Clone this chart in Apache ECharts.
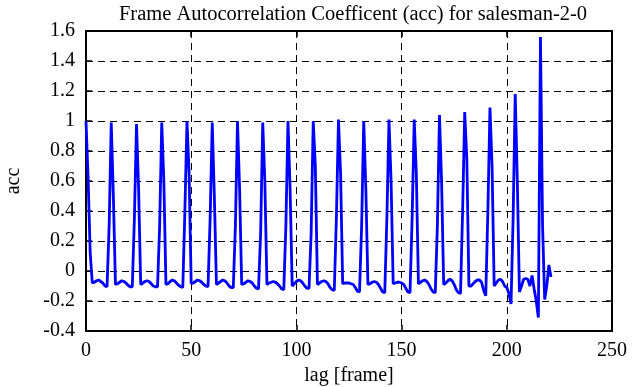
<!DOCTYPE html>
<html>
<head>
<meta charset="utf-8">
<script src="https://cdn.jsdelivr.net/npm/echarts@6/dist/echarts.min.js"></script>
<style>
html,body{margin:0;padding:0;background:#fff;}
#chart{width:635px;height:387px;}
</style>
</head>
<body>
<div id="chart"></div>
<script>
// Chart data
var titleText = "Frame Autocorrelation Coefficent (acc) for salesman-2-0";
var xLabel = "lag [frame]";
var yLabel = "acc";
var xTicks = [0, 50, 100, 150, 200, 250];
var yTicks = [-0.4, -0.2, 0, 0.2, 0.4, 0.6, 0.8, 1, 1.2, 1.4, 1.6];

// lag values 0..221
var lags = [
  0,1,2,3,4,5,6,7,8,9,10,11,12,13,14,15,16,17,18,19,
  20,21,22,23,24,25,26,27,28,29,30,31,32,33,34,35,36,37,38,39,
  40,41,42,43,44,45,46,47,48,49,50,51,52,53,54,55,56,57,58,59,
  60,61,62,63,64,65,66,67,68,69,70,71,72,73,74,75,76,77,78,79,
  80,81,82,83,84,85,86,87,88,89,90,91,92,93,94,95,96,97,98,99,
  100,101,102,103,104,105,106,107,108,109,110,111,112,113,114,115,116,117,118,119,
  120,121,122,123,124,125,126,127,128,129,130,131,132,133,134,135,136,137,138,139,
  140,141,142,143,144,145,146,147,148,149,150,151,152,153,154,155,156,157,158,159,
  160,161,162,163,164,165,166,167,168,169,170,171,172,173,174,175,176,177,178,179,
  180,181,182,183,184,185,186,187,188,189,190,191,192,193,194,195,196,197,198,199,
  200,201,202,203,204,205,206,207,208,209,210,211,212,213,214,215,216,217,218,219,
  220,221
];
var acc = [
  1.0, 0.62, 0.12, -0.08, -0.075, -0.065, -0.06, -0.07, -0.08, -0.1,
  -0.105, 0.3, 0.99, 0.5, -0.09, -0.085, -0.075, -0.065, -0.07, -0.08,
  -0.095, -0.105, -0.105, 0.35, 0.98, 0.55, -0.09, -0.08, -0.07, -0.065,
  -0.07, -0.085, -0.1, -0.105, -0.105, 0.3, 0.99, 0.6, -0.09, -0.085,
  -0.07, -0.06, -0.065, -0.08, -0.095, -0.105, -0.11, 0.4, 1.0, 0.65,
  -0.085, -0.08, -0.07, -0.06, -0.065, -0.075, -0.09, -0.1, -0.105, 0.35,
  0.99, 0.5, -0.09, -0.08, -0.07, -0.06, -0.065, -0.08, -0.1, -0.11,
  -0.11, 0.3, 1.0, 0.55, -0.09, -0.085, -0.075, -0.065, -0.07, -0.08,
  -0.1, -0.115, -0.12, 0.25, 0.99, 0.6, -0.09, -0.08, -0.075, -0.07,
  -0.075, -0.085, -0.1, -0.12, -0.125, 0.3, 1.0, 0.55, -0.1, -0.085,
  -0.07, -0.06, -0.065, -0.08, -0.1, -0.115, -0.115, 0.25, 1.0, 0.7,
  -0.09, -0.08, -0.07, -0.065, -0.07, -0.085, -0.11, -0.125, -0.13, 0.35,
  1.01, 0.65, -0.085, -0.08, -0.08, -0.08, -0.085, -0.09, -0.11, -0.135,
  -0.14, 0.3, 1.0, 0.55, -0.09, -0.085, -0.075, -0.07, -0.075, -0.09,
  -0.115, -0.14, -0.145, 0.35, 1.01, 0.6, -0.085, -0.08, -0.075, -0.075,
  -0.08, -0.09, -0.115, -0.14, -0.145, 0.35, 1.01, 0.65, -0.085, -0.075,
  -0.065, -0.06, -0.07, -0.09, -0.12, -0.14, -0.145, 0.3, 1.04, 0.6,
  -0.09, -0.08, -0.065, -0.055, -0.065, -0.09, -0.125, -0.145, -0.15, 0.4,
  1.06, 0.75, -0.1, -0.1, -0.085, -0.07, -0.06, -0.06, -0.075, -0.13,
  -0.165, 0.4, 1.09, 0.7, -0.1, -0.08, -0.06, -0.055, -0.07, -0.1,
  -0.11, -0.15, -0.22, 0.35, 1.18, 0.6, -0.14, -0.1, -0.055, -0.05,
  -0.055, -0.1, -0.03, -0.12, -0.2, -0.31, 1.56, 0.3, -0.19, -0.1,
  0.04, -0.04
];

var seriesData = lags.map(function (l, i) { return [l, acc[i]]; });

var font = "'Liberation Serif', 'DejaVu Serif', serif";
var chart = echarts.init(document.getElementById('chart'), null, {renderer: 'canvas'});

var frameLine = {show: true, onZero: false, lineStyle: {color: '#000', width: 2}};
var dashed = {show: true, lineStyle: {color: '#000', type: [7, 5], width: 1}};
var tick = {show: true, inside: true, length: 6, lineStyle: {color: '#000', width: 1.5}};

chart.setOption({
  animation: false,
  backgroundColor: '#fff',
  title: {
    text: titleText,
    left: 348, textAlign: 'center', top: -1,
    textStyle: {fontFamily: font, fontSize: 20.5, fontWeight: 'normal', color: '#000'}
  },
  grid: {left: 86, right: 23, top: 31, bottom: 56, containLabel: false, outerBoundsMode: 'none'},
  xAxis: [{
    type: 'value', min: xTicks[0], max: xTicks[xTicks.length - 1], interval: 50,
    position: 'bottom',
    name: xLabel, nameLocation: 'middle', nameGap: 34,
    nameTextStyle: {fontFamily: font, fontSize: 20, color: '#000'},
    axisLine: frameLine,
    axisTick: tick,
    axisLabel: {fontFamily: font, fontSize: 20, color: '#000', margin: 10},
    splitLine: dashed
  }, {
    type: 'value', min: xTicks[0], max: xTicks[xTicks.length - 1], interval: 50,
    position: 'top',
    axisLine: frameLine,
    axisTick: tick,
    axisLabel: {show: false},
    splitLine: {show: false}
  }],
  yAxis: [{
    type: 'value', min: yTicks[0], max: yTicks[yTicks.length - 1], interval: 0.2,
    position: 'left',
    name: yLabel, nameLocation: 'middle', nameGap: 62, nameRotate: 90,
    nameTextStyle: {fontFamily: font, fontSize: 20, color: '#000'},
    axisLine: frameLine,
    axisTick: tick,
    axisLabel: {fontFamily: font, fontSize: 20, color: '#000', margin: 11,
      formatter: function (v) { return String(Math.round(v * 10) / 10); }},
    splitLine: dashed
  }, {
    type: 'value', min: yTicks[0], max: yTicks[yTicks.length - 1], interval: 0.2,
    position: 'right',
    axisLine: frameLine,
    axisTick: tick,
    axisLabel: {show: false},
    splitLine: {show: false}
  }],
  series: [{
    type: 'line',
    xAxisIndex: 0, yAxisIndex: 0,
    data: seriesData,
    showSymbol: false,
    symbol: 'none',
    smooth: false,
    lineStyle: {color: '#0000ff', width: 2.8, join: 'bevel'},
    itemStyle: {color: '#0000ff'}
  }]
});
</script>
</body>
</html>
